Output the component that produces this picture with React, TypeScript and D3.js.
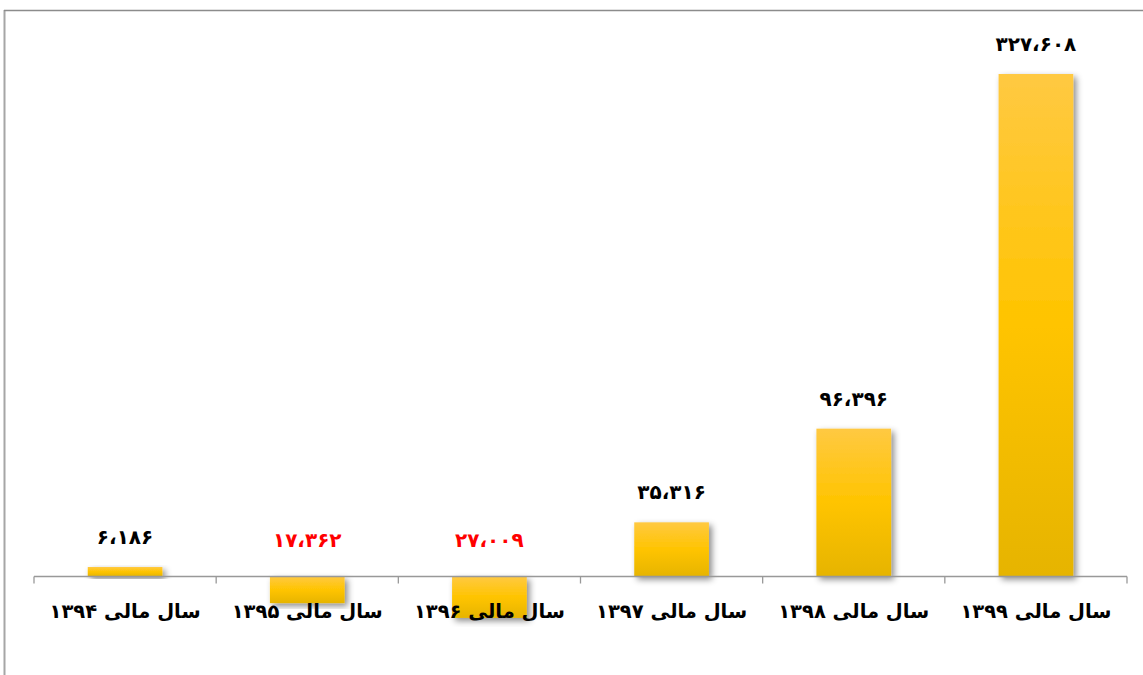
import React from 'react';
import * as d3 from 'd3';

const years = ['۱۳۹۴', '۱۳۹۵', '۱۳۹۶', '۱۳۹۷', '۱۳۹۸', '۱۳۹۹'];
const values = [6186, -17362, -27009, 35316, 96396, 327608];
const categoryPrefix = 'سال مالی ';

const W = 1143;
const H = 675;

const persianDigits = '۰۱۲۳۴۵۶۷۸۹';
const toPersian = (v: number) =>
    d3.format(',')(Math.abs(v))
        .replace(/\d/g, d => persianDigits[+d])
        .replace(/,/g, '،');

const App = () => {
    const x = d3.scaleBand<number>()
        .domain(d3.range(years.length))
        .range([34, 1127])
        .paddingInner(0.59)
        .paddingOuter(0.295);

    const y = d3.scaleLinear()
        .domain([0, 327608])
        .range([576.5, 74]);

    const step = x.step();
    const x0 = 34;
    const fontFamily = '"DejaVu Sans", sans-serif';

    return (
        <div style={{ position: 'fixed', left: 0, top: 0 }}>
            <svg width={W} height={H} style={{ display: 'block', background: '#fff' }}>
                <defs>
                    <linearGradient id="barGrad" x1="0" y1="0" x2="0" y2="1">
                        <stop offset="0%" stopColor="#FFC942" />
                        <stop offset="50%" stopColor="#FFC400" />
                        <stop offset="100%" stopColor="#E6B400" />
                    </linearGradient>
                    <filter id="shadow" x="-20%" y="-20%" width="140%" height="140%">
                        <feDropShadow dx="3" dy="3" stdDeviation="3" floodColor="#000" floodOpacity="0.45" />
                    </filter>
                </defs>

                {/* frame */}
                <line x1={4.5} x2={4.5} y1={10} y2={H} stroke="#a6a6a6" strokeWidth={2} />
                <line x1={4} x2={W} y1={10.5} y2={10.5} stroke="#8c8c8c" strokeWidth={1.5} />

                {/* bars */}
                {values.map((v, i) => (
                    <rect key={i}
                        x={x(i)}
                        y={Math.min(y(v), y(0))}
                        width={x.bandwidth()}
                        height={Math.abs(y(v) - y(0))}
                        fill="url(#barGrad)"
                        filter="url(#shadow)" />
                ))}

                {/* axis */}
                <line x1={x0} x2={1127} y1={y(0)} y2={y(0)} stroke="#999" strokeWidth={1.3} />
                {d3.range(years.length + 1).map(i => (
                    <line key={i} x1={x0 + i * step} x2={x0 + i * step}
                        y1={y(0)} y2={y(0) + 7} stroke="#999" strokeWidth={1.3} />
                ))}

                {/* category labels */}
                {years.map((yr, i) => (
                    <text key={yr}
                        x={(x(i) ?? 0) + x.bandwidth() / 2}
                        y={y(0) + 41}
                        textAnchor="middle"
                        direction="rtl"
                        fontFamily={fontFamily}
                        fontWeight="bold"
                        fontSize={19.5}
                        fill="#000">
                        {categoryPrefix + yr}
                    </text>
                ))}

                {/* value labels */}
                {values.map((v, i) => (
                    <text key={i}
                        x={(x(i) ?? 0) + x.bandwidth() / 2}
                        y={v >= 0 ? y(v) - 30 : y(0) - 37}
                        dy="0.35em"
                        textAnchor="middle"
                        fontFamily={fontFamily}
                        fontWeight="bold"
                        fontSize={20}
                        fill={v < 0 ? '#ff0000' : '#000'}>
                        {toPersian(v)}
                    </text>
                ))}
            </svg>
        </div>
    );
};

export default App;
